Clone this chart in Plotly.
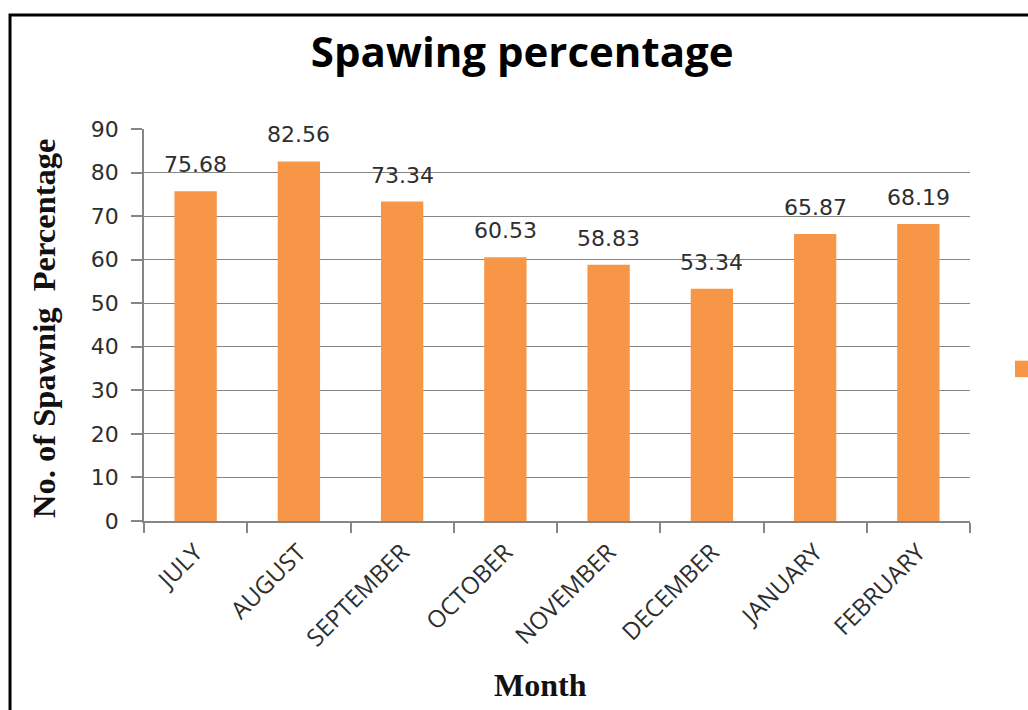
import plotly.graph_objects as go

months = ["JULY", "AUGUST", "SEPTEMBER", "OCTOBER", "NOVEMBER",
          "DECEMBER", "JANUARY", "FEBRUARY"]
spawning_pct = [75.68, 82.56, 73.34, 60.53, 58.83, 53.34, 65.87, 68.19]
y_ticks = [0, 10, 20, 30, 40, 50, 60, 70, 80, 90]

BAR_COLOR = "#F79646"
GRID_COLOR = "#868686"
TEXT_COLOR = "#2e2e2e"

fig = go.Figure()
fig.add_trace(go.Bar(
    x=months,
    y=spawning_pct,
    name="Spawing percentage",
    marker=dict(color=BAR_COLOR, line=dict(width=0)),
    showlegend=False,
))

# value labels above each bar
for m, v in zip(months, spawning_pct):
    fig.add_annotation(
        x=m, y=v, xref="x", yref="y",
        text=f"{v:.2f}", showarrow=False,
        yanchor="bottom", yshift=12,
        font=dict(family="DejaVu Sans", size=22, color=TEXT_COLOR),
    )

# axis titles
fig.add_annotation(
    x=-0.121, y=0.49, xref="paper", yref="paper",
    text="No. of Spawnig&nbsp; Percentage", textangle=-90, showarrow=False,
    xanchor="center", yanchor="middle",
    font=dict(family="Liberation Serif", size=32.5, color="#111111", weight="bold"),
)
fig.add_annotation(
    x=0.4806, y=-0.418, xref="paper", yref="paper",
    text="Month", showarrow=False,
    xanchor="center", yanchor="middle",
    font=dict(family="Liberation Serif", size=32, color="#111111", weight="bold"),
)

# chart frame
fig.add_shape(
    type="rect", xref="paper", yref="paper",
    x0=-0.1622, y0=-0.7, x1=1.3, y1=1.2908,
    line=dict(color="black", width=3), fillcolor="rgba(0,0,0,0)", layer="below",
)

# legend key at the right edge of the chart frame
fig.add_shape(
    type="rect", xref="paper", yref="paper",
    x0=1.0545, x1=1.078, y0=0.367, y1=0.409,
    line=dict(width=0), fillcolor=BAR_COLOR,
)

fig.update_layout(
    width=1028, height=710,
    margin=dict(l=144, r=58, t=129, b=189, autoexpand=False),
    paper_bgcolor="white", plot_bgcolor="white",
    bargap=0.59,
    showlegend=False,
    title=dict(
        text="<b>Spawing percentage</b>",
        x=0.508, xanchor="center", y=0.927, yanchor="middle",
        font=dict(family="Open Sans", size=42, color="#000000"),
    ),
    xaxis=dict(
        type="category",
        tickangle=-45,
        tickfont=dict(family="Open Sans", size=24, color=TEXT_COLOR),
        showline=True, linecolor=GRID_COLOR, linewidth=1.5,
        ticks="outside", tickson="boundaries", ticklen=10,
        tickcolor=GRID_COLOR, tickwidth=1.5,
        ticklabelstandoff=6,
        showgrid=False,
    ),
    yaxis=dict(
        range=[0, 90],
        tickvals=y_ticks,
        tickfont=dict(family="DejaVu Sans", size=22, color=TEXT_COLOR),
        showline=True, linecolor=GRID_COLOR, linewidth=1.5,
        ticks="outside", ticklen=11, tickcolor=GRID_COLOR, tickwidth=1.5,
        ticklabelstandoff=8,
        showgrid=True, gridcolor=GRID_COLOR, gridwidth=1.3,
        zeroline=False,
    ),
)

fig.write_html("out.html")
